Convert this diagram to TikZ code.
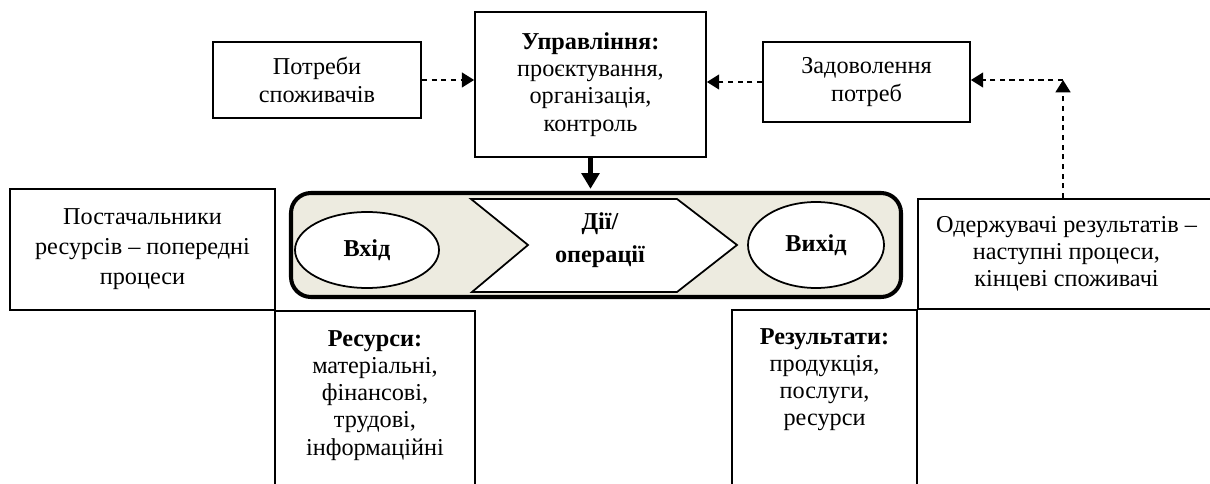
\documentclass[tikz,border=0pt]{standalone}
\usepackage{fontspec}
\setmainfont{Liberation Serif}
\usetikzlibrary{shapes.geometric,arrows.meta}
\definecolor{procfill}{RGB}{237,235,224}

\begin{document}
\begin{tikzpicture}[
    box/.style={rectangle, draw, line width=1pt, align=center, inner sep=0pt,
                font=\fontsize{13.8}{15.5}\selectfont},
    oval/.style={ellipse, draw, line width=1pt, fill=white, inner sep=0pt,
                 font=\fontsize{13.8}{15.5}\selectfont\bfseries},
    txt/.style={align=center, inner sep=0pt, font=\fontsize{13.8}{15.5}\selectfont},
    dasharrow/.style={-{Triangle[length=7pt,width=8.5pt]}, dash pattern=on 3pt off 2.5pt,
                      line width=0.9pt},
    bigarrow/.style={-{Triangle[length=9pt,width=10pt]}, line width=3pt},
]
    \clip (0,0) rectangle (24.2,-9.68);
    \fill[white] (0,0) rectangle (24.2,-9.68);

    % top row
    \node[box, minimum width=4.16cm, minimum height=1.52cm] (potreby) at (6.34,-1.60)
        {Потреби\\споживачів};
    \node[box, minimum width=4.62cm, minimum height=2.90cm] (upravl) at (11.81,-1.69)
        {\textbf{Управління:}\\проєктування,\\організація,\\контроль};
    \node[box, minimum width=4.14cm, minimum height=1.60cm] (zadov) at (17.33,-1.64)
        {Задоволення\\потреб};
    \coordinate (corner) at (21.26,-1.60);

    % process
    \node[draw, line width=2.3pt, rounded corners=0.4cm, fill=procfill,
          minimum width=12.2cm, minimum height=2.08cm] (proc) at (11.92,-4.90) {};
    \draw[line width=1pt, fill=white] (9.42,-3.98) -- (13.54,-3.98) -- (14.74,-4.90)
        -- (13.54,-5.84) -- (9.44,-5.84) -- (10.56,-4.90) -- cycle;
    \node[txt, font=\fontsize{13.8}{18.5}\selectfont\bfseries] (dii) at (12.0,-4.80)
        {Дії/\\операції};
    \node[oval, minimum width=2.88cm, minimum height=1.52cm] (vkhid) at (7.34,-5.00) {Вхід};
    \node[oval, minimum width=2.72cm, minimum height=1.72cm] (vykhid) at (16.32,-4.90) {Вихід};

    % side boxes
    \node[box, minimum width=5.30cm, minimum height=2.42cm,
          font=\fontsize{13.8}{17}\selectfont] (postach) at (2.85,-4.99)
        {Постачальники\\ресурсів – попередні\\процеси};
    \node[box, minimum width=5.94cm, minimum height=2.20cm] (oderzh) at (21.33,-5.08)
        {Одержувачі результатів –\\наступні процеси,\\кінцеві споживачі};

    % bottom boxes
    \node[box, minimum width=4.00cm, minimum height=4cm, anchor=north] (resursy) at (7.50,-6.20) {};
    \node[txt, anchor=north] (resursytxt) at ([yshift=-0.40cm]resursy.north)
        {\textbf{Ресурси:}\\матеріальні,\\фінансові,\\трудові,\\інформаційні};
    \node[box, minimum width=3.70cm, minimum height=4cm, anchor=north] (result) at (16.49,-6.18) {};
    \node[txt, anchor=north] (resulttxt) at ([yshift=-0.38cm]result.north)
        {\textbf{Результати:}\\продукція,\\послуги,\\ресурси};

    % arrows
    \draw[dasharrow] (potreby.east) -- (potreby.east -| upravl.west);
    \draw[dasharrow] (zadov.west) -- (zadov.west -| upravl.east);
    \draw[dasharrow] (corner |- oderzh.north) -- (corner);
    \draw[dasharrow] (corner) -- (corner -| zadov.east);
    \draw[bigarrow] (upravl.south) -- ([yshift=1.2pt]upravl.south |- proc.north);
\end{tikzpicture}
\end{document}
